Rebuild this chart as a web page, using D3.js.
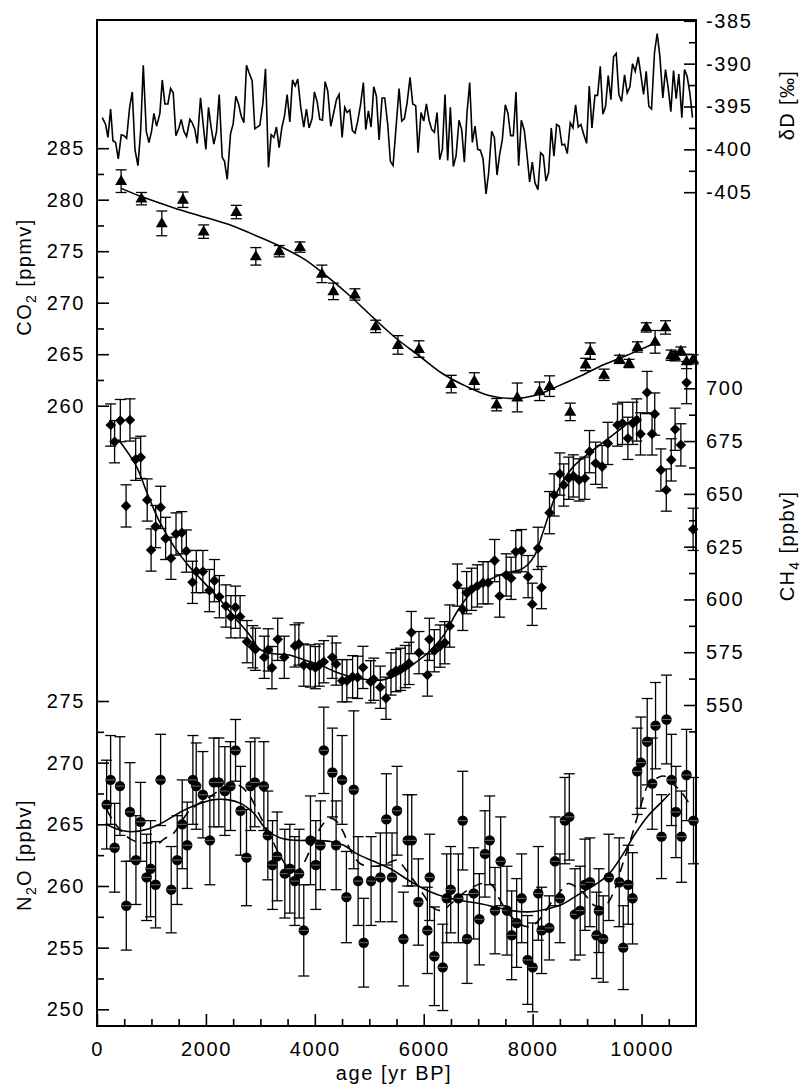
<!DOCTYPE html>
<meta charset="utf-8">

<!-- Load d3.js -->
<script src="https://d3js.org/d3.v7.min.js"></script>

<style>
  body { margin: 0; background: #fff; }
</style>

<!-- Create a div where the graph will take place -->
<div id="my_dataviz"></div>

<script>

// ---------- DATA (age [yr BP], value[, error]) ----------
var dDSeries = [
  [97,-396.3],[158,-397.1],[201,-398.6],[250,-395.3],[293,-399.0],[342,-399.2],[391,-401.1],[446,-398.3],
  [495,-398.4],[544,-398.7],[599,-395.1],[648,-393.3],[697,-400.0],[752,-401.9],[801,-397.9],[850,-390.2],
  [905,-397.9],[954,-399.2],[1002,-397.9],[1045,-395.8],[1094,-397.3],[1155,-395.8],[1198,-391.9],[1247,-394.7],
  [1302,-394.7],[1351,-392.9],[1400,-393.4],[1449,-398.4],[1504,-397.5],[1547,-396.5],[1596,-397.9],[1645,-398.5],
  [1706,-396.5],[1749,-396.9],[1798,-397.7],[1840,-399.3],[1901,-394.0],[1950,-397.1],[1999,-400.0],[2048,-395.1],
  [2097,-397.5],[2146,-399.4],[2195,-397.9],[2244,-393.6],[2299,-400.9],[2342,-401.4],[2391,-403.5],[2452,-398.2],
  [2501,-397.0],[2550,-393.8],[2599,-394.7],[2648,-396.1],[2697,-396.9],[2745,-390.2],[2794,-391.1],[2849,-392.0],
  [2898,-397.6],[2941,-397.4],[2990,-397.2],[3045,-394.7],[3094,-390.6],[3149,-402.1],[3198,-398.3],[3247,-398.6],
  [3296,-397.4],[3345,-399.8],[3394,-397.5],[3443,-396.1],[3492,-393.6],[3541,-396.8],[3590,-391.9],[3639,-392.6],
  [3687,-391.8],[3742,-395.1],[3797,-397.4],[3846,-395.3],[3895,-397.5],[3950,-396.4],[3993,-393.3],[4042,-394.4],
  [4091,-396.5],[4140,-396.6],[4189,-392.1],[4238,-393.2],[4293,-397.3],[4348,-395.7],[4397,-394.2],[4446,-393.6],
  [4501,-398.6],[4550,-395.1],[4593,-395.7],[4642,-395.4],[4690,-397.8],[4739,-398.1],[4788,-396.7],[4837,-394.9],
  [4892,-392.2],[4935,-397.7],[4984,-395.5],[5033,-397.4],[5082,-392.7],[5131,-393.8],[5180,-398.9],[5235,-394.0],
  [5284,-394.0],[5339,-397.1],[5388,-401.4],[5437,-401.9],
  [5547,-392.9],[5596,-396.7],[5645,-396.4],[5694,-394.6],[5749,-391.6],[5798,-394.7],[5853,-394.9],[5896,-400.4],
  [5951,-395.7],[6000,-396.7],[6049,-394.7],[6098,-396.6],[6147,-397.7],[6196,-398.0],[6245,-395.7],[6294,-401.2],
  [6342,-400.0],[6391,-393.6],[6440,-401.3],[6489,-395.1],[6544,-402.0],[6593,-400.8],[6648,-396.6],[6697,-397.7],
  [6746,-401.5],[6795,-395.7],[6844,-392.2],[6893,-399.2],[6942,-397.3],[6991,-400.0],[7040,-400.1],[7089,-401.1],
  [7144,-405.2],[7193,-402.7],[7248,-397.9],[7297,-398.6],[7346,-403.0],[7394,-400.6],[7443,-398.9],[7498,-394.8],
  [7547,-395.8],[7596,-398.4],[7645,-398.4],[7694,-393.3],[7743,-401.9],[7792,-396.6],[7847,-397.8],[7896,-400.6],
  [7945,-403.8],[7994,-401.5],[8043,-403.9],[8098,-404.7],[8147,-400.4],[8196,-400.7],[8245,-403.7],[8293,-402.7],
  [8342,-397.5],[8391,-400.8],[8440,-397.1],[8489,-397.3],[8538,-399.5],[8587,-399.4],[8636,-400.5],[8691,-396.9],
  [8740,-397.5],[8789,-394.8],[8838,-397.4],[8887,-397.1],[8936,-398.2],[8991,-399.3],[9040,-392.6],[9089,-397.5],
  [9144,-393.7],[9193,-393.7],[9242,-390.3],[9290,-395.9],[9339,-395.0],[9388,-391.4],[9437,-394.2],[9486,-389.2],
  [9535,-388.8],[9584,-393.6],[9633,-394.4],[9688,-391.3],[9737,-393.4],[9786,-392.7],[9835,-390.0],[9884,-390.9],
  [9939,-389.2],[9988,-391.3],[10037,-393.6],[10086,-390.9],[10134,-395.0],[10183,-395.3],[10238,-388.7],[10287,-386.5],
  [10336,-389.1],[10391,-394.0],[10440,-390.7],[10489,-392.8],[10538,-395.6],[10587,-390.8],[10636,-394.1],[10685,-391.2],
  [10740,-396.3],[10789,-390.7],[10838,-391.5],[10887,-393.4],[10936,-396.3]
];

var co2Series = [
  [443,281.8,1.1],[816,280.1,0.6],[1190,277.7,1.2],[1578,280.0,0.75],[1958,276.9,0.65],[2558,278.8,0.65],
  [2917,274.5,0.85],[3347,275.0,0.55],[3728,275.4,0.5],[4130,272.8,0.85],[4341,271.1,0.8],[4736,270.8,0.55],
  [5117,267.7,0.6],[5526,265.9,0.9],[5913,265.5,0.8],[6506,262.1,0.85],[6929,262.4,0.8],[7338,260.1,0.6],
  [7718,260.8,1.4],[8127,261.4,0.9],[8311,261.9,1.0],[8691,259.4,0.85],[8973,264.0,0.6],[9058,265.3,0.8],
  [9312,263.0,0.55],[9594,264.5,0.4],[9770,264.1,0.4],[9925,265.7,0.5],[10087,267.6,0.45],[10249,266.2,1.1],
  [10440,267.6,0.65],[10545,264.9,0.5],[10616,264.8,0.45],[10722,265.3,0.4],[10827,264.3,0.7],[10947,264.5,0.45]
];

var co2Spline = [
  [443,281.1],[816,280.3],[1415,279.2],[1980,278.3],[2473,277.5],[2967,276.4],[3389,275.4],[3813,274.2],
  [4235,272.5],[4658,270.6],[5081,268.5],[5504,266.5],[5927,264.8],[6350,263.1],[6774,261.9],[7197,261.0],
  [7620,260.7],[8043,261.0],[8465,261.9],[8888,262.9],[9312,264.0],[9735,264.9],[10087,265.7],[10263,266.1]
];

var ch4Error = 10;
var ch4Series = [
  [252,682.6],[323,674.7],[428,684.7],[605,685.0],[534,644.3],[710,666.4],[802,667.3],[922,647.1],[993,623.4],
  [1077,634.5],[1169,643.6],[1260,628.9],[1359,619.5],[1451,631.0],[1557,631.6],[1641,622.9],[1754,608.1],
  [1824,613.2],[1944,613.2],[2064,604.2],[2156,608.9],[2247,601.3],[2367,596.9],[2459,591.8],[2543,596.3],
  [2628,591.8],[2755,580.0],[2861,577.6],[2910,576.4],[3072,572.6],[3143,576.1],[3213,567.7],[3319,581.1],
  [3439,572.6],[3636,578.0],[3707,578.9],[3798,568.9],[3918,568.5],[4010,567.7],[4080,568.9],[4165,570.5],
  [4320,572.6],[4391,569.4],[4503,561.5],[4588,561.5],[4694,563.4],[4785,563.1],[4884,567.8],[5025,561.0],
  [5082,562.2],[5202,558.4],[5307,553.2],[5399,564.7],[5491,566.3],[5575,566.9],[5660,568.2],[5730,569.7],
  [5772,584.3],[5913,574.8],[6068,564.2],[6104,581.1],[6195,575.7],[6301,577.9],[6386,579.5],[6477,587.4],
  [6618,606.8],[6717,595.3],[6788,603.2],[6879,604.8],[6985,606.4],[7091,607.9],[7182,607.9],[7302,618.4],
  [7394,601.6],[7514,611.6],[7605,610.0],[7690,622.6],[7796,623.1],[7916,610.8],[7993,597.7],[8099,624.2],
  [8163,605.6],[8310,641.1],[8395,649.5],[8500,659.4],[8571,654.2],[8663,657.4],[8747,658.5],[8853,656.6],
  [8959,657.4],[9044,670.0],[9157,664.5],[9276,662.9],[9382,673.9],[9558,682.6],[9650,683.4],[9749,676.3],
  [9840,683.4],[9911,685.0],[9981,678.4],[10101,698.0],[10193,678.4],[10242,687.8],[10355,661.3],[10454,651.8],
  [10545,666.1],[10616,680.6],[10722,673.2],[10827,702.7],[10947,633.2]
];

var ch4Spline = [
  [393,675.8],[710,663.7],[922,650.3],[1134,637.6],[1415,625.0],[1698,615.5],[1980,607.6],[2262,599.7],
  [2543,591.0],[2825,582.4],[2967,576.8],[3178,574.5],[3530,573.7],[3813,571.3],[4094,568.9],[4376,565.8],
  [4658,563.4],[4940,562.1],[5222,561.8],[5504,564.2],[5786,568.9],[6068,574.5],[6350,582.4],[6632,595.0],
  [6914,604.5],[7197,609.2],[7479,612.4],[7761,613.9],[7902,616.3],[8043,621.1],[8184,631.3],[8325,642.4],
  [8466,651.8],[8747,662.9],[9030,669.2],[9312,674.7],[9594,680.3],[9876,685.8],[9946,686.6]
];

var n2oSeries = [
  [177,266.6,3.6],[250,268.6,3.6],[324,263.1,3.6],[421,268.1,4.0],[538,258.4,3.6],[605,266.0,4.0],
  [715,262.1,3.6],[800,265.2,3.2],[911,260.7,3.5],[984,261.4,3.9],[1076,260.1,3.5],[1168,268.6,3.7],
  [1363,259.7,3.5],[1473,262.1,3.6],[1565,265.0,3.6],[1657,263.3,3.5],[1761,268.6,3.6],[1822,268.1,3.5],
  [1944,267.4,3.5],[2073,263.7,3.6],[2146,268.4,3.6],[2238,268.4,3.6],[2348,267.7,3.6],[2452,268.1,3.6],
  [2544,271.0,2.5],[2636,266.1,3.6],[2745,262.3,3.9],[2819,268.1,3.6],[2898,268.4,3.6],[3064,268.1,3.6],
  [3137,264.1,3.6],[3223,261.7,3.6],[3308,262.4,3.6],[3449,261.0,3.6],[3541,261.4,3.6],[3632,260.4,3.6],
  [3712,261.0,3.6],[3797,256.4,3.7],[3920,263.7,3.6],[4018,261.7,3.6],[4103,263.3,3.6],[4165,271.0,3.5],
  [4323,269.2,3.6],[4391,263.3,3.6],[4501,268.6,3.6],[4580,259.1,3.7],[4715,267.8,6.4],[4795,260.4,3.6],
  [4898,255.4,3.6],[5033,260.4,3.6],[5204,260.7,3.6],[5314,265.4,3.7],[5418,260.7,3.6],[5510,266.1,3.6],
  [5627,255.7,3.8],[5706,263.7,3.7],[5780,263.7,3.7],[5902,258.7,3.5],[6067,256.4,3.5],[6110,260.7,3.5],
  [6196,254.3,4.0],[6349,253.4,3.5],[6422,259.0,3.6],[6495,259.7,3.5],[6636,259.0,3.6],[6716,265.3,4.0],
  [6795,255.7,3.6],[6917,259.4,3.7],[7021,257.3,3.7],[7125,262.6,3.5],[7211,263.7,3.6],[7309,258.0,3.5],
  [7413,262.0,3.6],[7529,258.0,3.6],[7615,256.0,3.6],[7706,257.0,3.6],[7798,259.0,3.6],[7908,254.0,3.6],
  [8000,253.4,3.6],[8104,259.4,3.8],[8165,256.4,3.5],[8306,256.6,2.6],[8410,262.0,3.6],[8502,259.0,3.6],
  [8593,265.3,3.5],[8673,265.6,3.5],[8777,257.7,3.7],[8874,258.0,3.6],[8960,260.1,3.7],[9052,260.3,3.6],
  [9174,256.0,3.5],[9217,258.0,3.4],[9296,255.7,3.5],[9400,260.7,3.5],[9590,260.3,3.6],[9664,255.0,3.4],
  [9755,260.1,3.2],[9835,259.0,3.7],[9920,269.3,3.5],[9988,270.0,3.7],[10104,271.7,3.5],[10196,268.3,3.7],
  [10257,273.0,3.5],[10367,264.0,3.4],[10458,273.5,3.6],[10550,268.6,3.7],[10630,266.0,3.7],[10734,264.0,3.7],
  [10826,269.0,3.7],[10954,265.3,3.5]
];

var n2oSpline = [
  [177,265.0],[372,264.6],[617,264.4],[923,264.6],[1229,265.2],[1535,266.0],[1840,266.6],[2146,267.0],
  [2391,267.0],[2636,266.7],[2880,265.9],[3125,264.5],[3369,263.9],[3675,263.7],[3981,263.7],[4287,263.6],
  [4531,263.3],[4776,262.6],[5082,262.0],[5388,261.4],[5780,260.3],[6086,259.6],[6391,259.1],[6697,258.8],
  [7003,258.6],[7309,258.3],[7615,258.0],[7920,257.9],[8226,258.1],[8532,258.5],[8838,259.3],[9144,260.1],
  [9388,260.9],[9633,262.4],[9877,264.2],[10122,265.7],[10367,266.8],[10520,267.5]
];

var n2oDashed = [
  [177,266.2],[281,265.4],[434,264.5],[617,263.8],[800,263.5],[984,263.5],[1106,263.4],[1229,263.8],
  [1412,264.3],[1535,265.1],[1657,265.9],[1840,266.6],[2024,267.1],[2268,267.8],[2452,268.2],[2636,268.1],
  [2819,267.2],[3002,265.6],[3186,264.0],[3369,262.4],[3553,261.3],[3706,261.3],[3828,262.1],[3981,263.7],
  [4165,265.1],[4287,265.5],[4409,265.2],[4531,264.3],[4654,262.9],[4837,261.8],[5082,261.6],[5266,261.7],
  [5510,262.1],[5657,261.4],[5841,260.3],[6025,259.1],[6147,258.3],[6330,258.0],[6483,258.5],[6636,259.1],
  [6820,259.7],[7065,260.2],[7248,260.1],[7370,259.1],[7553,257.8],[7737,257.0],[7920,256.7],[8043,256.9],
  [8165,257.5],[8349,258.7],[8532,259.7],[8654,260.2],[8807,259.9],[8960,259.3],[9144,258.4],[9327,258.4],
  [9480,259.4],[9633,261.5],[9816,264.0],[9999,266.7],[10122,268.2],[10305,268.8],[10428,268.9],[10550,268.4],
  [10734,267.6],[10917,266.4]
];

// tick values
var ageMajor = [0, 2000, 4000, 6000, 8000, 10000];
var ageMinor = [500, 1000, 1500, 2500, 3000, 3500, 4500, 5000, 5500, 6500, 7000, 7500, 8500, 9000, 9500, 10500];
var co2Major = [260, 265, 270, 275, 280, 285];
var co2Minor = [262.5, 267.5, 272.5, 277.5, 282.5];
var n2oMajor = [250, 255, 260, 265, 270, 275];
var n2oMinor = [252.5, 257.5, 262.5, 267.5, 272.5];
var ch4Major = [550, 575, 600, 625, 650, 675, 700];
var ch4Minor = [537.5, 562.5, 587.5, 612.5, 637.5, 662.5, 687.5];
var dDMajor = [-405, -400, -395, -390, -385];
var dDMinor = [-402.5, -397.5, -392.5, -387.5];

// set the dimensions and margins of the graph
var margin = {top: 20, right: 107, bottom: 63, left: 97},
    width = 803 - margin.left - margin.right,
    height = 1089 - margin.top - margin.bottom;

var FONT = "Liberation Sans, Arial, Helvetica, sans-serif";

var svg = d3.select("#my_dataviz").append("svg")
    .attr("width", 803)
    .attr("height", 1089)
  .append("g")
    .attr("transform", "translate(" + margin.left + "," + margin.top + ")");

// scales (each gas has its own vertical band)
var x = d3.scaleLinear().domain([0, 11000]).range([0, width]);
var yD = d3.scaleLinear().domain([-405, -385]).range([172.2, 0.8]);
var yCO2 = d3.scaleLinear().domain([260, 285]).range([385.7, 128.2]);
var yCH4 = d3.scaleLinear().domain([550, 700]).range([685, 368.3]);
var yN2O = d3.scaleLinear().domain([250, 275]).range([989.3, 681]);

// FRAME
svg.append("rect")
    .attr("x", 0)
    .attr("y", 0)
    .attr("width", width)
    .attr("height", height)
    .attr("fill", "none")
    .attr("stroke", "black")
    .attr("stroke-width", 2);

// AXES: inward ticks, minor + major
function drawAxis(make, majors, minors, tx, ty, pad) {
  var gm = svg.append("g")
      .attr("transform", "translate(" + tx + "," + ty + ")")
      .call(make().tickValues(minors).tickSize(-7).tickFormat(""));
  gm.select(".domain").remove();
  gm.selectAll("line").attr("stroke-width", 1.6);

  var g = svg.append("g")
      .attr("transform", "translate(" + tx + "," + ty + ")")
      .call(make().tickValues(majors).tickSize(-12).tickPadding(pad)
            .tickFormat(function(d) { return String(d); }));
  g.select(".domain").remove();
  g.selectAll("line").attr("stroke-width", 1.6);
  g.attr("font-size", 20).attr("font-family", FONT);
  g.selectAll("text").style("letter-spacing", "1.6px");
  return g;
}

drawAxis(function() { return d3.axisBottom(x); }, ageMajor, ageMinor, 0, height, 16);
drawAxis(function() { return d3.axisLeft(yCO2); }, co2Major, co2Minor, 0, 0, 12);
drawAxis(function() { return d3.axisLeft(yN2O); }, n2oMajor, n2oMinor, 0, 0, 12);
drawAxis(function() { return d3.axisRight(yD); }, dDMajor, dDMinor, width, 0, 10);
drawAxis(function() { return d3.axisRight(yCH4); }, ch4Major, ch4Minor, width, 0, 10);

// AXIS TITLES
function vTitle(cx, cy, main, sub, rest) {
  var t = svg.append("text")
      .attr("transform", "translate(" + cx + "," + cy + ") rotate(-90)")
      .attr("text-anchor", "middle")
      .attr("font-family", FONT)
      .attr("font-size", 20)
      .style("letter-spacing", "1.4px")
      .text(main);
  if (sub) {
    t.append("tspan").attr("font-size", 14).attr("dy", 5).text(sub);
    t.append("tspan").attr("dy", -5).text(rest);
  }
}
vTitle(-66, 257, "CO", "2", " [ppmv]");
vTitle(-66, 835, "N", "2", "O [ppbv]");
vTitle(697, 526, "CH", "4", " [ppbv]");
vTitle(697, 85, "\u03B4D [\u2030]");

svg.append("text")
    .attr("x", 297)
    .attr("y", 1080 - margin.top)
    .attr("text-anchor", "middle")
    .attr("font-family", FONT)
    .attr("font-size", 20)
    .style("letter-spacing", "1.6px")
    .text("age [yr BP]");

// dD RECORD
svg.append("path")
    .datum(dDSeries)
    .attr("fill", "none")
    .attr("stroke", "black")
    .attr("stroke-width", 1.6)
    .attr("stroke-linejoin", "miter")
    .attr("d", d3.line()
      .x(function(d) { return x(d[0]); })
      .y(function(d) { return yD(d[1]); }));

// ERROR BARS
function errorBars(data, y, errOf) {
  var g = svg.append("g").attr("stroke", "black").attr("stroke-width", 1.3);
  data.forEach(function(d) {
    var e = errOf(d), cx = x(d[0]);
    g.append("line").attr("x1", cx).attr("x2", cx)
      .attr("y1", y(d[1] - e)).attr("y2", y(d[1] + e));
    [d[1] - e, d[1] + e].forEach(function(v) {
      g.append("line").attr("x1", cx - 5.5).attr("x2", cx + 5.5)
        .attr("y1", y(v)).attr("y2", y(v));
    });
  });
}

errorBars(co2Series, yCO2, function(d) { return d[2]; });
errorBars(ch4Series, yCH4, function() { return ch4Error; });
errorBars(n2oSeries, yN2O, function(d) { return d[2]; });

// MARKERS
svg.append("g").selectAll("path")
  .data(co2Series)
  .enter().append("path")
    .attr("d", d3.symbol().type(d3.symbolTriangle).size(62))
    .attr("transform", function(d) { return "translate(" + x(d[0]) + "," + (yCO2(d[1]) + 0.5) + ")"; })
    .attr("fill", "black");

svg.append("g").selectAll("path")
  .data(ch4Series)
  .enter().append("path")
    .attr("d", d3.symbol().type(d3.symbolSquare).size(56))
    .attr("transform", function(d) { return "translate(" + x(d[0]) + "," + yCH4(d[1]) + ") rotate(45)"; })
    .attr("fill", "black");

var dots = svg.append("g").selectAll("g")
  .data(n2oSeries)
  .enter().append("g")
    .attr("transform", function(d) { return "translate(" + x(d[0]) + "," + yN2O(d[1]) + ")"; });
dots.append("circle").attr("r", 5.2).attr("fill", "black");
dots.append("line")
    .attr("x1", -4.5).attr("x2", 4.5)
    .attr("y1", 0).attr("y2", 0)
    .attr("stroke", "#8a8a8a")
    .attr("stroke-width", 0.8);

// SPLINES
function curve(data, y, dash) {
  svg.append("path")
    .datum(data)
    .attr("fill", "none")
    .attr("stroke", "black")
    .attr("stroke-width", 1.6)
    .attr("stroke-dasharray", dash)
    .attr("d", d3.line()
      .curve(d3.curveCatmullRom)
      .x(function(d) { return x(d[0]); })
      .y(function(d) { return y(d[1]); }));
}
curve(co2Spline, yCO2, null);
curve(ch4Spline, yCH4, null);
curve(n2oSpline, yN2O, null);
curve(n2oDashed, yN2O, "10,7");

</script>
